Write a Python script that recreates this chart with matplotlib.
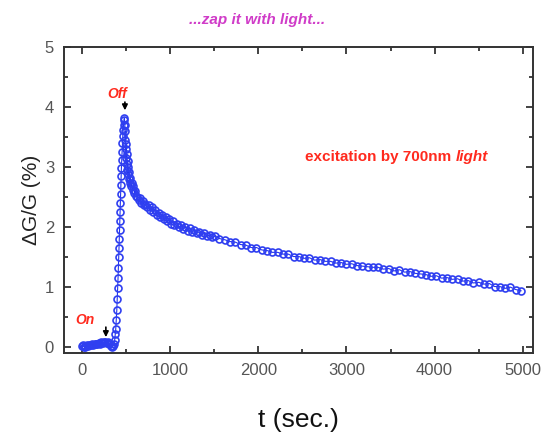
import matplotlib
matplotlib.use('Agg')
from matplotlib import pyplot as plt
from matplotlib.ticker import MultipleLocator

plt.rcParams['font.family'] = ['Liberation Sans', 'DejaVu Sans']

# time (s) and photoconductance change (%)
t_base = [0, 10, 20, 30, 40, 55, 70, 85, 100, 115, 130, 145, 160, 175, 190,
          205, 220, 235, 250, 265, 280, 295, 310, 325, 340, 355, 365, 372, 378, 384]
g_base = [0.02, 0.03, 0.01, 0.02, 0.0, 0.03, 0.02, 0.04, 0.03, 0.05, 0.04, 0.05, 0.06, 0.05, 0.07,
          0.06, 0.08, 0.07, 0.09, 0.08, 0.07, 0.09, 0.05, 0.02, 0.0, 0.02, 0.05, 0.12, 0.22, 0.3]

t_rise = [390, 396, 401, 406, 410, 414, 418, 421, 424, 427, 430, 433, 436, 439, 442,
          445, 448, 452, 456, 460, 464, 468, 472, 477, 482]
g_rise = [0.45, 0.62, 0.8, 0.98, 1.15, 1.32, 1.5, 1.65, 1.8, 1.95, 2.1, 2.25, 2.4, 2.55, 2.7,
          2.85, 2.98, 3.12, 3.25, 3.4, 3.52, 3.62, 3.7, 3.78, 3.82]

t_fast = [487, 491, 494, 497, 500, 503, 506, 510, 514, 518, 522, 527, 532, 538, 544,
          551, 558, 566, 575, 585, 595, 606, 618, 630, 645, 660, 675, 690, 705, 720,
          738, 756, 774, 792, 810, 830, 850, 870, 890, 910, 930, 950, 970, 990, 1010,
          1030, 1050, 1075, 1100, 1125, 1150, 1175, 1200, 1225, 1250, 1275, 1300, 1330,
          1360, 1390, 1420, 1450, 1480, 1510]
g_fast = [3.7, 3.45, 3.6, 3.3, 3.15, 3.38, 3.05, 3.22, 2.95, 3.1, 2.88, 3.0, 2.8, 2.92, 2.74,
          2.82, 2.68, 2.74, 2.62, 2.68, 2.57, 2.6, 2.52, 2.5, 2.45, 2.49, 2.41, 2.44, 2.37, 2.39,
          2.33, 2.37, 2.29, 2.33, 2.25, 2.29, 2.21, 2.24, 2.17, 2.21, 2.13, 2.17, 2.1, 2.13, 2.06,
          2.1, 2.03, 2.06, 2.0, 2.04, 1.97, 2.0, 1.94, 1.98, 1.92, 1.95, 1.9, 1.92,
          1.87, 1.9, 1.85, 1.87, 1.83, 1.85]

t_slow = [1560, 1620, 1680, 1740, 1800, 1860, 1920, 1980, 2040, 2100, 2160, 2220, 2280,
          2340, 2400, 2460, 2520, 2580, 2640, 2700, 2760, 2820, 2880, 2940, 3000, 3060,
          3120, 3180, 3240, 3300, 3360, 3420, 3480, 3540, 3600, 3660, 3720, 3780, 3840,
          3900, 3960, 4020, 4080, 4140, 4200, 4260, 4320, 4380, 4440, 4500, 4560, 4620,
          4680, 4740, 4800, 4860, 4920, 4980]
g_slow = [1.81, 1.79, 1.76, 1.75, 1.71, 1.70, 1.66, 1.66, 1.62, 1.61, 1.58, 1.58, 1.55,
          1.55, 1.51, 1.51, 1.48, 1.49, 1.45, 1.46, 1.43, 1.43, 1.40, 1.41, 1.38, 1.39,
          1.36, 1.35, 1.34, 1.33, 1.33, 1.30, 1.31, 1.27, 1.29, 1.25, 1.26, 1.23, 1.22,
          1.21, 1.18, 1.19, 1.15, 1.16, 1.13, 1.14, 1.10, 1.11, 1.07, 1.08, 1.05, 1.06,
          1.01, 1.01, 0.98, 1.0, 0.96, 0.94]

t = t_base + t_rise + t_fast + t_slow
g = g_base + g_rise + g_fast + g_slow

fig = plt.figure(figsize=(5.5, 4.36), dpi=100)
ax = fig.add_axes([0.116, 0.19, 0.853, 0.702])

ax.plot(t, g, color='#2233ee', lw=0.8, marker='o', ms=5, mfc='none', mec='#2f3ff0', mew=1.2)

ax.set_xlim(-205, 5115)
ax.set_ylim(-0.1, 5)
ax.xaxis.set_major_locator(MultipleLocator(1000))
ax.xaxis.set_minor_locator(MultipleLocator(500))
ax.yaxis.set_major_locator(MultipleLocator(1))
ax.yaxis.set_minor_locator(MultipleLocator(0.5))
ax.tick_params(which='both', direction='in', top=True, right=True, colors='#222222',
               labelcolor='#555555', labelsize=12, width=1.2)
ax.tick_params(which='major', length=5, pad=7)
ax.tick_params(which='minor', length=3)
for s in ax.spines.values():
    s.set_linewidth(1.4)
    s.set_color('#333333')

ax.set_xlabel('t (sec.)', fontsize=19, color='#111111', labelpad=22)
ax.set_ylabel('ΔG/G (%)', fontsize=15, color='#222222', labelpad=3)

fig.text(0.467, 0.953, '...zap it with light...', color='#d03cc8', fontsize=11,
         fontweight='bold', fontstyle='italic', ha='center', va='center')

red = '#ff2a1e'
ax.text(400, 4.22, 'Off', color=red, fontsize=10, fontweight='bold', fontstyle='italic',
        ha='center', va='center')
ax.annotate('', xy=(488, 3.9), xytext=(488, 4.13),
            arrowprops=dict(arrowstyle='-|>', color='black', lw=1.2, mutation_scale=8))
ax.text(30, 0.45, 'On', color=red, fontsize=10, fontweight='bold', fontstyle='italic',
        ha='center', va='center')
ax.annotate('', xy=(272, 0.12), xytext=(272, 0.38),
            arrowprops=dict(arrowstyle='-|>', color='black', lw=1.2, mutation_scale=8))

exc = ax.text(2530, 3.17, 'excitation by 700nm ', color=red, fontsize=11,
              fontweight='bold', ha='left', va='center')
ax.annotate('light', xy=(1, 0.5), xycoords=exc, color=red, fontsize=11,
            fontweight='bold', fontstyle='italic', ha='left', va='center')

fig.savefig('out.png', dpi=100, facecolor='white')
